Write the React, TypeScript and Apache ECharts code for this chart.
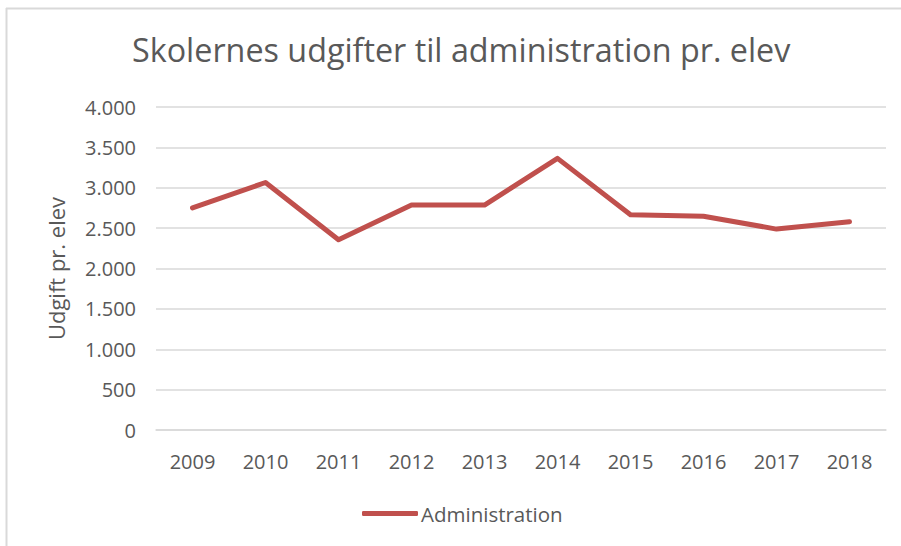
import React, { useEffect, useRef } from "react";
import * as echarts from "echarts";

const years = ["2009", "2010", "2011", "2012", "2013", "2014", "2015", "2016", "2017", "2018"];
const administration = [2750, 3065, 2355, 2786, 2786, 3364, 2665, 2648, 2488, 2578];
const titleText = "Skolernes udgifter til administration pr. elev";
const yAxisName = "Udgift pr. elev";
const seriesName = "Administration";

const fmt = (v: number) => {
  const s = String(Math.round(v));
  return s.replace(/\B(?=(\d{3})+(?!\d))/g, ".");
};

export default function App() {
  const ref = useRef<HTMLDivElement>(null);
  useEffect(() => {
    if (!ref.current) return;
    const chart = echarts.init(ref.current, null, { renderer: "svg" });
    const font = "Open Sans";
    chart.setOption({
      animation: false,
      backgroundColor: "#ffffff",
      textStyle: { fontFamily: font },
      title: {
        text: titleText,
        left: 127,
        top: 28,
        textStyle: { fontFamily: font, fontSize: 32.3, fontWeight: "normal", color: "#595959" },
      },
      graphic: [
        { type: "line", shape: { x1: 6, y1: 8.5, x2: 901, y2: 8.5 }, style: { stroke: "#d9d9d9", lineWidth: 2 } },
        { type: "line", shape: { x1: 6.5, y1: 8, x2: 6.5, y2: 546 }, style: { stroke: "#d9d9d9", lineWidth: 2 } },
      ],
      legend: {
        bottom: 17,
        left: 357,
        itemWidth: 56,
        itemHeight: 5,
        itemGap: 4,
        icon: "roundRect",
        textStyle: { fontFamily: font, fontSize: 20.5, color: "#595959", padding: [0, 0, 0, -2] },
        data: [seriesName],
      },
      grid: { left: 156, right: 15, top: 107, bottom: 116, containLabel: false },
      xAxis: {
        type: "category",
        data: years,
        boundaryGap: true,
        axisLine: { show: true, lineStyle: { color: "#d9d9d9", width: 1.5 } },
        axisTick: { show: false },
        axisLabel: { color: "#595959", fontSize: 20, margin: 21, fontFamily: font },
      },
      yAxis: {
        type: "value",
        min: 0,
        max: 4000,
        interval: 500,
        name: yAxisName,
        nameLocation: "middle",
        nameGap: 89,
        nameRotate: 90,
        nameTextStyle: { color: "#595959", fontSize: 22, fontFamily: font },
        axisLine: { show: false },
        axisTick: { show: false },
        axisLabel: { color: "#595959", fontSize: 20, margin: 20, fontFamily: font, formatter: (v: number) => fmt(v) },
        splitLine: { lineStyle: { color: "#d9d9d9", width: 1.5 } },
      },
      series: [
        {
          name: seriesName,
          type: "line",
          data: administration,
          symbol: "none",
          itemStyle: { color: "#C0504D" },
          lineStyle: { color: "#C0504D", width: 5, cap: "round", join: "round" },
        },
      ],
    });
    return () => chart.dispose();
  }, []);
  return (
    <div
      ref={ref}
      style={{ position: "absolute", left: 0, top: 0, width: 901, height: 546 }}
    />
  );
}
